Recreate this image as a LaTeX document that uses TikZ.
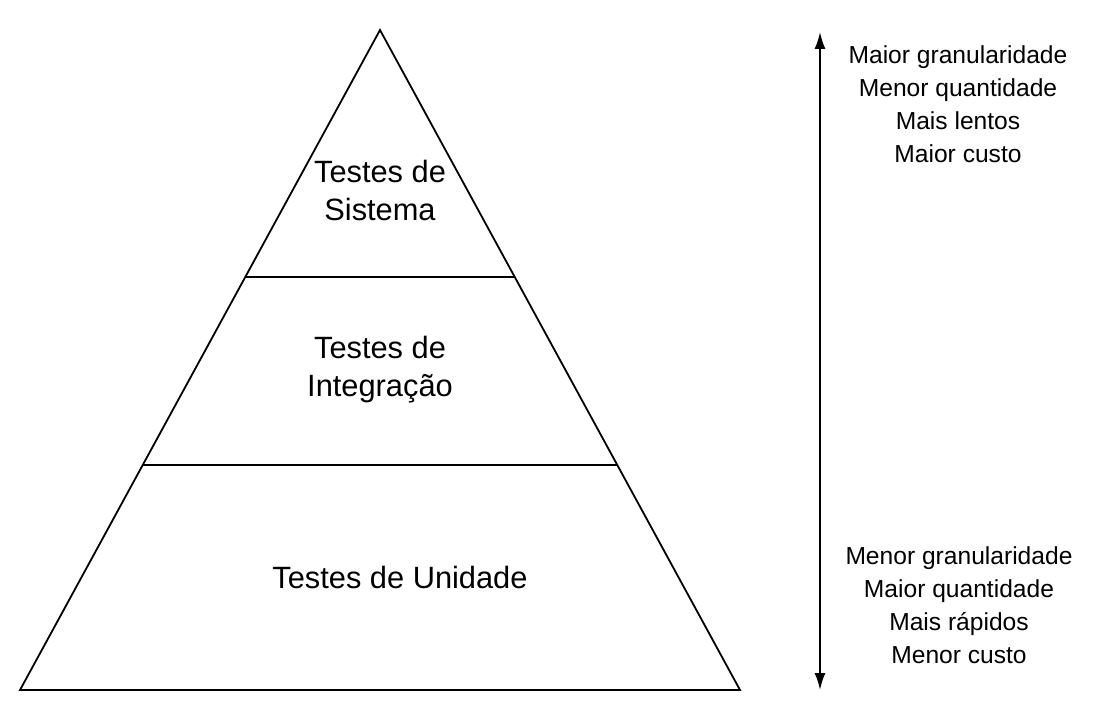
\documentclass[tikz,border=0pt]{standalone}
\usepackage{fontspec}
\setmainfont{Liberation Sans}
\usetikzlibrary{arrows.meta}
\usetikzlibrary{positioning}

\begin{document}
\begin{tikzpicture}
	[x=1pt,y=-1pt,line width=1.8pt,
	 level/.style={align=center,font=\fontsize{30.8}{38}\selectfont},
	 side/.style={align=center,font=\fontsize{24.6}{33}\selectfont}]
	\useasboundingbox (0,0) rectangle (1100,722);
	\coordinate (apex) at (380,30);
	\coordinate (bl) at (20,690);
	\coordinate (br) at (740,690);
	\coordinate (l1) at (245.3,277);
	\coordinate (r1) at (514.7,277);
	\coordinate (l2) at (142.7,465);
	\coordinate (r2) at (617.3,465);
	\coordinate (top) at (820,32);
	\coordinate (bot) at (820,690);
	
	\draw[line join=miter] (apex) -- (bl) -- (br) -- cycle;
	\foreach \from/\to in {l1/r1, l2/r2}
	\draw (\from) -- (\to);
	\draw[{Latex[length=17pt,width=11pt]}-{Latex[length=17pt,width=11pt]}] (top) -- (bot);
	
	\node[level] (sis) at (380,190) {Testes de\\Sistema};
	\node[level] (int) at (380,370) {Testes de\\Integração};
	\node[level] (uni) at (400,577) {Testes de Unidade};
	\node[side] (up) at (958,104) {Maior granularidade\\Menor quantidade\\Mais lentos\\Maior custo};
	\node[side] (down) at (959,605) {Menor granularidade\\Maior quantidade\\Mais rápidos\\Menor custo};
\end{tikzpicture}
\end{document}
